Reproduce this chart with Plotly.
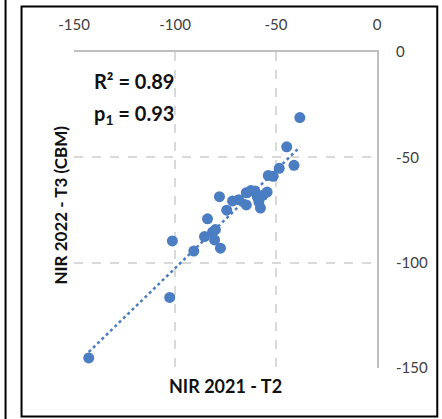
import numpy as np
import plotly.graph_objects as go

# NIR 2021 - T2 (x) vs NIR 2022 - T3 (CBM) (y)
nir_2021_t2 = [-38.2, -44.7, -41.1, -48.4, -51.4, -53.8, -54.4, -62.5, -64.7, -59.3,
               -58.5, -57.7, -64.7, -68.4, -71.5, -74.4, -78.0, -83.9, -80.0, -81.4,
               -85.4, -80.4, -77.5, -90.7, -101.3, -102.6, -142.7, -56.5, -60.5]
nir_2022_t3 = [-31.1, -45.0, -53.8, -55.2, -59.0, -58.6, -66.5, -65.8, -66.8, -68.7,
               -71.1, -74.1, -72.6, -70.1, -70.7, -75.1, -68.7, -79.2, -84.3, -85.5,
               -87.6, -89.2, -93.1, -94.5, -89.7, -116.5, -145.2, -68.0, -66.0]
tick_vals = [-150, -100, -50, 0]
tick_text = ["-150", "-100", "-50", "0"]
stat_labels = ["R² = 0.89", "p<sub>1</sub> = 0.93"]
x_title = "NIR 2021 - T2"
y_title = "NIR 2022 - T3 (CBM)"

blue = "#4A7DC2"
grid = "#D9D9D9"
axis_line = "#BFBFBF"
font_family = "Lato"

xa = np.array(nir_2021_t2)
ya = np.array(nir_2022_t3)
slope, intercept = np.polyfit(xa, ya, 1)
tx = np.array([xa.min(), xa.max()])
ty = slope * tx + intercept

fig = go.Figure()
fig.add_trace(go.Scatter(x=tx, y=ty, mode="lines",
                         line=dict(color=blue, width=2.5, dash="dot"),
                         hoverinfo="skip", showlegend=False))
fig.add_trace(go.Scatter(x=nir_2021_t2, y=nir_2022_t3, mode="markers",
                         marker=dict(color=blue, size=11),
                         showlegend=False))

L, R, T, B = 73.5, 65.3, 51.7, 50.7
W, H = 442, 419
pw, ph = W - L - R, H - T - B

def px(x):
    return (x - L) / pw

def py(y):
    return (H - B - y) / ph

fig.update_layout(
    width=W, height=H,
    margin=dict(l=L, r=R, t=T, b=B),
    paper_bgcolor="white", plot_bgcolor="white",
    font=dict(family=font_family, size=15, color="#404040"),
    xaxis=dict(range=[-150, 0], side="top", tickvals=tick_vals, ticktext=tick_text,
               showgrid=True, gridcolor=grid, griddash="dash", gridwidth=1.5,
               zeroline=False, showline=True, linecolor=axis_line, linewidth=2,
               ticks="", ticklabelstandoff=14, fixedrange=True),
    yaxis=dict(range=[-150, 0], side="right", tickvals=tick_vals, ticktext=tick_text,
               showgrid=True, gridcolor=grid, griddash="dash", gridwidth=1.5,
               zeroline=False, showline=True, linecolor=axis_line, linewidth=2,
               ticks="", ticklabelstandoff=14, fixedrange=True),
    annotations=[
        dict(text="<b>" + stat_labels[0] + "</b>", xref="paper", yref="paper",
             x=px(92), y=py(81), xanchor="left", yanchor="middle",
             showarrow=False, font=dict(size=20, color="#111111", family=font_family)),
        dict(text="<b>" + stat_labels[1] + "</b>", xref="paper", yref="paper",
             x=px(92), y=py(114), xanchor="left", yanchor="middle",
             showarrow=False, font=dict(size=20, color="#111111", family=font_family)),
        dict(text="<b>" + x_title + "</b>", xref="paper", yref="paper",
             x=px(225), y=py(386), xanchor="center", yanchor="middle",
             showarrow=False, font=dict(size=18, color="#111111", family=font_family)),
        dict(text="<b>" + y_title + "</b>", xref="paper", yref="paper",
             x=px(60), y=py(205), xanchor="center", yanchor="middle", textangle=-90,
             showarrow=False, font=dict(size=17, color="#111111", family=font_family)),
    ],
    shapes=[
        dict(type="rect", xref="paper", yref="paper",
             x0=px(21), x1=px(437), y0=py(417), y1=py(6),
             line=dict(color="black", width=2), fillcolor="rgba(0,0,0,0)"),
        dict(type="line", xref="paper", yref="paper",
             x0=px(5), x1=px(5), y0=py(425), y1=py(-5),
             line=dict(color="black", width=2)),
    ],
)

fig.write_html("out.html")
